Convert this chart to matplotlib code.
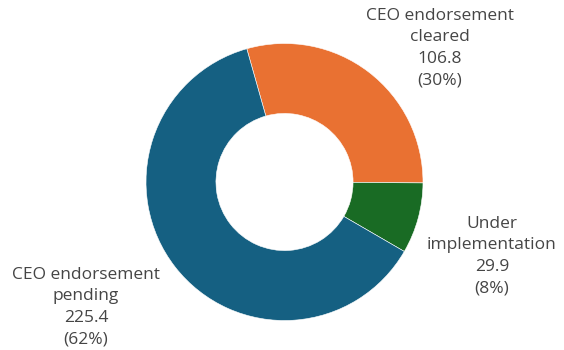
import matplotlib
matplotlib.use("Agg")
import matplotlib.pyplot as plt

categories = ["CEO endorsement\ncleared", "Under\nimplementation", "CEO endorsement\npending"]
values = [106.8, 29.9, 225.4]
percent_labels = ["30%", "8%", "62%"]
colors = ["#E97132", "#196B24", "#156082"]

W, H = 564, 350
fig = plt.figure(figsize=(W / 100, H / 100), dpi=100)
ax = fig.add_axes([0, 0, 1, 1])

cx, cy, r = 284.5, H - 182, 138.5
ax.pie(values, colors=colors, startangle=105.8, counterclock=False,
       center=(cx, cy), radius=r, frame=True,
       wedgeprops=dict(width=r * 0.505, edgecolor="white", linewidth=0.4))
ax.set_xlim(0, W)
ax.set_ylim(0, H)
ax.set_aspect("equal")
ax.axis("off")

label_pos = [(440, H - 48), (492, H - 256), (86, H - 307)]
for cat, v, p, (x, y) in zip(categories, values, percent_labels, label_pos):
    ax.text(x, y, f"{cat}\n{v:.1f}\n({p})", ha="center", va="center",
            fontsize=12.5, color="#454545", family="Open Sans", linespacing=1.45)

fig.savefig("out.png", dpi=100)
